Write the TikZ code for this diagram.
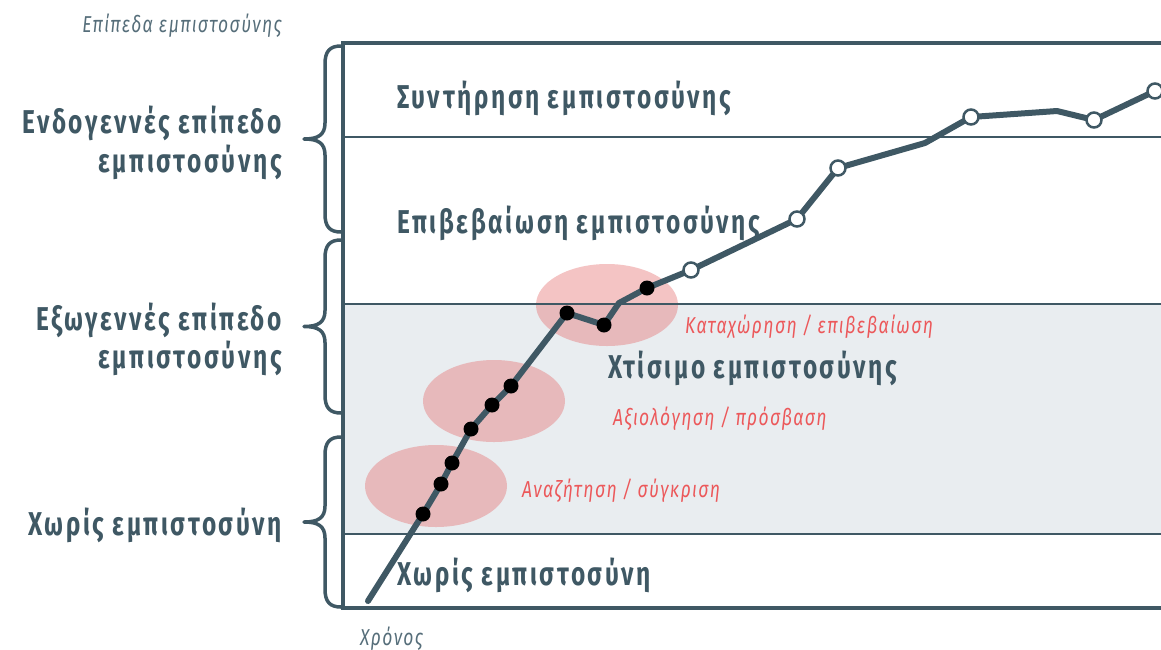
\documentclass[tikz,border=0pt]{standalone}
\usepackage{fontspec}
\setmainfont{Fira Sans}
\newfontfamily\condb{Fira Sans}[FakeStretch=0.74, LetterSpace=8]
\newfontfamily\condi{Fira Sans}[FakeStretch=0.76, LetterSpace=6]
\definecolor{slate}{RGB}{63,88,100}
\definecolor{slatelt}{RGB}{86,110,122}
\definecolor{bandgray}{RGB}{233,237,240}
\definecolor{redlbl}{RGB}{236,88,90}
\definecolor{pinkfill}{RGB}{229,115,115}
\tikzset{
  biglbl/.style={text=slate, font=\condb\bfseries\fontsize{33}{36}\selectfont, inner sep=0pt},
  leftlbl/.style={biglbl, anchor=base east, align=right},
  inlbl/.style={biglbl, anchor=base west},
  itlbl/.style={text=slatelt, font=\condi\itshape\fontsize{23}{26}\selectfont, inner sep=0pt},
  redl/.style={text=redlbl, font=\condi\itshape\fontsize{23}{26}\selectfont, inner sep=0pt, anchor=base west},
  blob/.style={fill=pinkfill, fill opacity=0.42, draw=none},
  frameline/.style={draw=slate, line width=4pt},
  thinline/.style={draw=slate, line width=2pt},
  curve/.style={draw=slate, line width=6pt, line join=round, line cap=round},
  fulldot/.style={circle, fill=black, minimum size=15pt, inner sep=0pt},
  opendot/.style={circle, fill=white, draw=slate, line width=2.5pt, minimum size=15pt, inner sep=0pt},
  bracestyle/.style={draw=slate, line width=3.5pt, line cap=round, line join=round}
}
\newcommand\mybrace[2]{%
  \draw[bracestyle] (341,#1) .. controls (330,#1) and (325,#1+5) .. (325,#1+18)
    -- (325,{(#1+#2)/2-16}) .. controls (325,{(#1+#2)/2-4}) and (318,{(#1+#2)/2}) .. (304,{(#1+#2)/2})
    .. controls (318,{(#1+#2)/2}) and (325,{(#1+#2)/2+4}) .. (325,{(#1+#2)/2+16})
    -- (325,#2-18) .. controls (325,#2-5) and (330,#2) .. (341,#2);}
\begin{document}
\begin{tikzpicture}[x=1pt,y=-1pt]
\useasboundingbox (0,0) rectangle (1161,649);
% band
\fill[bandgray] (343,304) rectangle (1161,534);
% ellipses
\path[blob] (436,486) ellipse [x radius=71, y radius=41];
\path[blob] (494,401) ellipse [x radius=71, y radius=41];
\path[blob] (607,305) ellipse [x radius=71, y radius=41];
% thin lines
\draw[thinline] (343,137) -- (1161,137);
\draw[thinline] (343,304) -- (1161,304);
\draw[thinline] (343,534) -- (1161,534);
% frame
\draw[frameline] (1161,43) -- (343,43) -- (343,608) -- (1161,608);
% braces
\mybrace{46}{232}
\mybrace{240}{413}
\mybrace{437}{607}
% labels
\node[itlbl, anchor=base east] (title) at (282,32) {Επίπεδα εμπιστοσύνης};
\node[itlbl, anchor=base west] (time) at (360,645) {Χρόνος};
\node[leftlbl] (endo) at (282,133) {Ενδογεννές επίπεδο};
\node[leftlbl] (endob) at (282,172) {εμπιστοσύνης};
\node[leftlbl] (exo) at (282,330) {Εξωγεννές επίπεδο};
\node[leftlbl] (exob) at (282,368) {εμπιστοσύνης};
\node[leftlbl] (none) at (282,535) {Χωρίς εμπιστοσύνη};
\node[inlbl] (maint) at (397,108) {Συντήρηση εμπιστοσύνης};
\node[inlbl] (conf) at (397,233) {Επιβεβαίωση εμπιστοσύνης};
\node[inlbl] (build) at (608,378) {Χτίσιμο εμπιστοσύνης};
\node[inlbl] (nonein) at (397,585) {Χωρίς εμπιστοσύνη};
\node[redl] (reg) at (685,333) {Καταχώρηση / επιβεβαίωση};
\node[redl] (eval) at (613,425) {Αξιολόγηση / πρόσβαση};
\node[redl] (search) at (522,497) {Αναζήτηση / σύγκριση};
% curve points
\coordinate (p0) at (368,601);
\coordinate (p1) at (423,514);
\coordinate (p2) at (441,484);
\coordinate (p3) at (452,463);
\coordinate (p4) at (471,429);
\coordinate (p5) at (492,405);
\coordinate (p6) at (511,386);
\coordinate (p7) at (567,313);
\coordinate (p8) at (604,325);
\coordinate (b1) at (619,303);
\coordinate (p9) at (647,288);
\coordinate (q1) at (691,270);
\coordinate (q2) at (797,219);
\coordinate (q3) at (838,168);
\coordinate (b2) at (925,143);
\coordinate (q4) at (971,117);
\coordinate (b3) at (1057,111);
\coordinate (q5) at (1094,120);
\coordinate (q6) at (1155,91);
\draw[curve] (p0) -- (p1) -- (p2) -- (p3) -- (p4) -- (p5) -- (p6) -- (p7) -- (p8) -- (b1) -- (p9) -- (q1) -- (q2) -- (q3) -- (b2) -- (q4) -- (b3) -- (q5) -- (q6);
\foreach \p in {p1,p2,p3,p4,p5,p6,p7,p8,p9} \node[fulldot] at (\p) {};
\foreach \q in {q1,q2,q3,q4,q5,q6} \node[opendot] at (\q) {};
\end{tikzpicture}
\end{document}
